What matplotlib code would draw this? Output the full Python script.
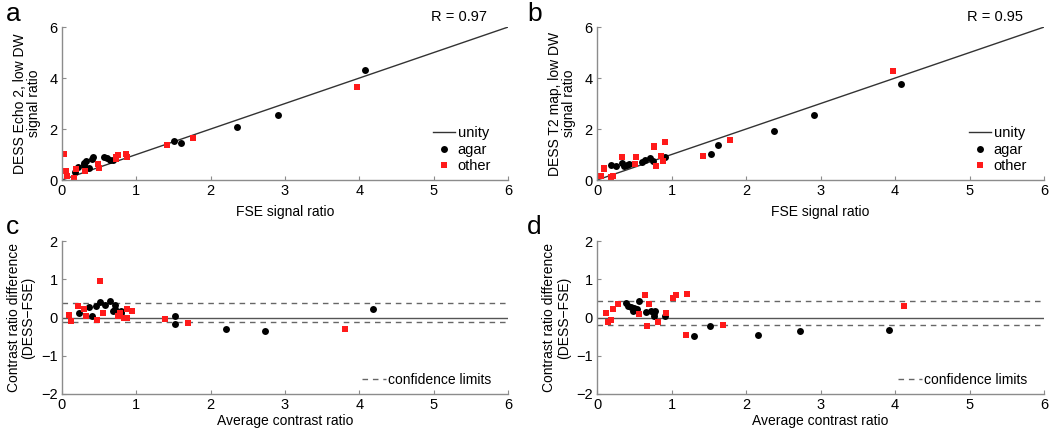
import matplotlib
matplotlib.use("Agg")
import matplotlib.pyplot as plt

plt.rcParams['font.family'] = ['Liberation Sans', 'DejaVu Sans']
plt.rcParams['font.size'] = 10

# data: panel a (DESS Echo 2 vs FSE)
a_agar_x = [0.17, 0.22, 0.30, 0.32, 0.30, 0.37, 0.41, 0.42, 0.57, 0.60, 0.64, 0.69, 1.51, 1.60, 2.36, 2.90, 4.08]
a_agar_y = [0.33, 0.52, 0.68, 0.76, 0.60, 0.46, 0.81, 0.89, 0.92, 0.85, 0.79, 0.79, 1.55, 1.44, 2.07, 2.56, 4.31]
a_other_x = [0.03, 0.06, 0.07, 0.16, 0.19, 0.31, 0.49, 0.50, 0.73, 0.76, 0.73, 0.86, 0.87, 1.41, 1.76, 3.97]
a_other_y = [1.02, 0.37, 0.16, 0.09, 0.42, 0.35, 0.63, 0.48, 0.81, 0.98, 0.89, 1.02, 0.89, 1.39, 1.64, 3.65]

# data: panel b (DESS T2 map vs FSE)
b_agar_x = [0.19, 0.26, 0.34, 0.36, 0.43, 0.40, 0.60, 0.64, 0.71, 0.75, 0.91, 1.53, 1.62, 2.38, 2.91, 4.08]
b_agar_y = [0.59, 0.56, 0.68, 0.56, 0.63, 0.59, 0.69, 0.79, 0.85, 0.76, 0.92, 1.04, 1.39, 1.93, 2.56, 3.76]
b_other_x = [0.05, 0.09, 0.10, 0.19, 0.21, 0.34, 0.52, 0.51, 0.76, 0.77, 0.79, 0.86, 0.88, 0.91, 1.42, 1.78, 3.97]
b_other_y = [0.17, 0.42, 0.48, 0.13, 0.17, 0.92, 0.89, 0.63, 1.28, 1.35, 0.56, 0.94, 0.76, 1.51, 0.96, 1.57, 4.27]

# data: panel c (Bland-Altman, Echo 2)
c_agar_x = [0.23, 0.36, 0.41, 0.46, 0.51, 0.58, 0.64, 0.68, 0.72, 0.72, 0.79, 0.80, 1.52, 1.52, 2.21, 2.73, 4.19]
c_agar_y = [0.13, 0.27, 0.05, 0.30, 0.41, 0.34, 0.43, 0.16, 0.34, 0.21, 0.17, 0.11, 0.03, -0.17, -0.31, -0.34, 0.21]
c_other_x = [0.10, 0.12, 0.22, 0.30, 0.33, 0.47, 0.51, 0.55, 0.76, 0.78, 0.83, 0.87, 0.88, 0.94, 1.39, 1.69, 3.81]
c_other_y = [0.07, -0.10, 0.30, 0.21, 0.03, -0.06, 0.96, 0.12, 0.03, 0.11, -0.01, 0.22, -0.02, 0.17, -0.03, -0.14, -0.31]
c_limits = [0.37, -0.12]

# data: panel d (Bland-Altman, T2 map)
d_agar_x = [0.39, 0.41, 0.45, 0.48, 0.49, 0.53, 0.56, 0.66, 0.72, 0.76, 0.77, 0.78, 0.91, 1.30, 1.51, 2.16, 2.73, 3.92]
d_agar_y = [0.39, 0.31, 0.27, 0.18, 0.24, 0.23, 0.44, 0.14, 0.18, 0.13, 0.03, 0.16, 0.03, -0.49, -0.23, -0.45, -0.35, -0.32]
d_other_x = [0.12, 0.15, 0.19, 0.21, 0.28, 0.56, 0.64, 0.67, 0.70, 0.82, 0.92, 1.02, 1.06, 1.21, 1.20, 1.69, 4.12]
d_other_y = [0.12, -0.11, -0.06, 0.23, 0.36, 0.08, 0.59, -0.23, 0.36, -0.11, 0.11, 0.51, 0.58, 0.61, -0.45, -0.19, 0.29]
d_limits = [0.42, -0.19]

r_values = ['R = 0.97', 'R = 0.95']

RED = '#ff1a1a'
AXGRAY = '#8c8c8c'

fig = plt.figure(figsize=(10.5, 4.32), dpi=100)
ax_a = fig.add_axes([0.059, 0.5833, 0.4248, 0.354])
ax_b = fig.add_axes([0.5686, 0.5833, 0.4257, 0.354])
ax_c = fig.add_axes([0.059, 0.088, 0.4248, 0.354])
ax_d = fig.add_axes([0.5686, 0.088, 0.4257, 0.354])


def style(ax, ylim, yticks):
    ax.set_xlim(0, 6)
    ax.set_ylim(*ylim)
    ax.set_xticks(range(7))
    ax.set_yticks(yticks)
    for s in ['top', 'right']:
        ax.spines[s].set_visible(False)
    for s in ['left', 'bottom']:
        ax.spines[s].set_color(AXGRAY)
        ax.spines[s].set_linewidth(1.0)
    ax.tick_params(direction='in', length=3, color=AXGRAY, labelsize=10.5, pad=3)


# top panels: scatter vs unity
for ax, ax_data, r, ylab in [
        (ax_a, (a_agar_x, a_agar_y, a_other_x, a_other_y), r_values[0], 'DESS Echo 2, low DW\nsignal ratio'),
        (ax_b, (b_agar_x, b_agar_y, b_other_x, b_other_y), r_values[1], 'DESS T2 map, low DW\nsignal ratio')]:
    ax.plot([0, 6], [0, 6], color='#333333', lw=1.0, label='unity')
    ax.plot(ax_data[0], ax_data[1], 'o', color='black', ms=5, mew=0, label='agar')
    ax.plot(ax_data[2], ax_data[3], 's', color=RED, ms=4.3, mew=0, label='other')
    style(ax, (0, 6), [0, 2, 4, 6])
    ax.set_xlabel('FSE signal ratio', labelpad=5)
    ax.set_ylabel(ylab, labelpad=6, linespacing=1.05)
    ax.text(0.953, 1.065, r, ha='right', va='center', transform=ax.transAxes, fontsize=10.5)
    ax.legend(loc='lower right', bbox_to_anchor=(0.985, -0.02), frameon=False,
              handlelength=1.5, handletextpad=0.2, labelspacing=0.15, borderpad=0.2,
              fontsize=10.5)

# bottom panels: difference plots
for ax, ax_data, lims in [
        (ax_c, (c_agar_x, c_agar_y, c_other_x, c_other_y), c_limits),
        (ax_d, (d_agar_x, d_agar_y, d_other_x, d_other_y), d_limits)]:
    ax.axhline(0, color='#555555', lw=1.0)
    for i, lim in enumerate(lims):
        ax.axhline(lim, color='#666666', lw=1.0, ls=(0, (4, 3.5)),
                   label='confidence limits' if i == 0 else None)
    ax.plot(ax_data[0], ax_data[1], 'o', color='black', ms=5, mew=0)
    ax.plot(ax_data[2], ax_data[3], 's', color=RED, ms=4.3, mew=0)
    style(ax, (-2, 2), [-2, -1, 0, 1, 2])
    ax.set_xlabel('Average contrast ratio', labelpad=1)
    ax.set_ylabel('Contrast ratio difference\n(DESS\u2212FSE)', labelpad=4, linespacing=1.05)
    ax.legend(loc='lower right', bbox_to_anchor=(0.985, -0.02), frameon=False,
              handlelength=1.7, handletextpad=0.2, borderpad=0.2, fontsize=10)

# panel letters
for lbl, x, y in [('a', 0.006, 0.951), ('b', 0.502, 0.951), ('c', 0.006, 0.458), ('d', 0.502, 0.458)]:
    fig.text(x, y, lbl, fontsize=19, va='baseline', ha='left')

fig.savefig('out.png', dpi=100)
